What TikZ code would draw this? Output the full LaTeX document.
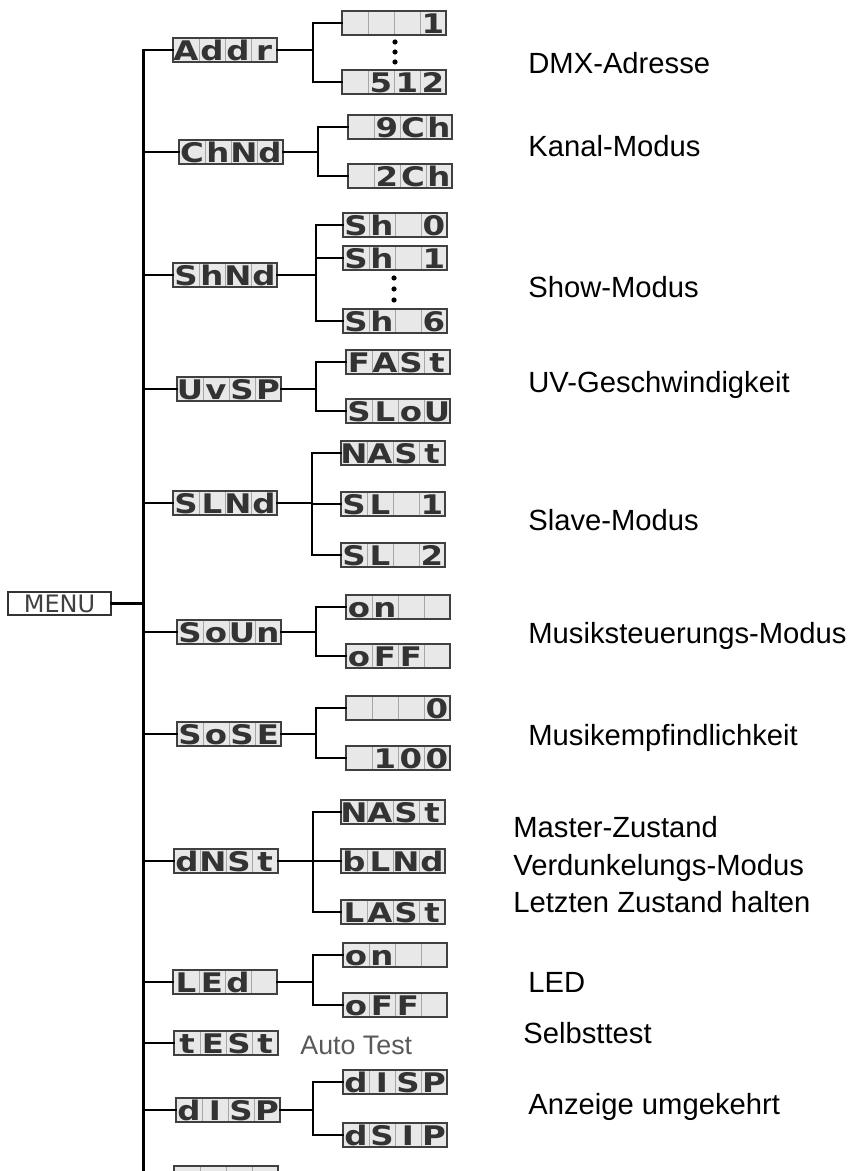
\documentclass[tikz,border=0pt]{standalone}
\usepackage{fontspec}
\usepackage{graphicx}
\setmainfont{Liberation Sans}
\newfontfamily\lcdfont{DejaVu Sans}
\newfontfamily\menufont{DejaVu Sans}
\newcommand{\segcell}[1]{\makebox[13pt]{\scalebox{1.2}[1]{#1}}}
\newcommand{\segs}[4]{\segcell{#1}\segcell{#2}\segcell{#3}\segcell{#4}}

\begin{document}
\begin{tikzpicture}[x=0.5pt,y=-0.5pt]
        \tikzset{lcd/.style={draw=black!75,fill=black!9,line width=0.7pt,
                minimum width=52pt,minimum height=12pt,inner sep=0pt,
                text height=11pt,text depth=0.5pt,text=black!80,
                font=\lcdfont\bfseries\fontsize{13.5}{14}\selectfont,
                path picture={\foreach \k in {-13pt,0pt,13pt}
                    \draw[black!35,line width=0.4pt] ([xshift=\k]path picture bounding box.south)
                        -- ([xshift=\k]path picture bounding box.north);}},
            menubox/.style={draw=black!80,line width=0.7pt,minimum width=51.5pt,
                minimum height=11.5pt,inner sep=0pt,text=black!75,
                font=\menufont\fontsize{12}{12}\selectfont},
            wire/.style={line width=1.3pt,line cap=rect},
            trunk/.style={line width=1.5pt},
            note/.style={anchor=base west,inner sep=0pt,font=\fontsize{14.6}{17}\selectfont},
            autonote/.style={anchor=base west,inner sep=0pt,text=black!65,
                font=\fontsize{13.4}{15}\selectfont},
            vdot/.style={circle,fill,inner sep=0pt,minimum size=2.6pt}}
        \useasboundingbox (0,0) rectangle (850,1171);
        \clip (0,0) rectangle (850,1171);

        \node[menubox] (menu) at (59.5,603.5) {MENU};

        \node[lcd] (Addr) at (225,50) {\segs{A}{d}{d}{r}};
        \node[lcd] (ChNd) at (231,152) {\segs{C}{h}{N}{d}};
        \node[lcd] (ShNd) at (225,275) {\segs{S}{h}{N}{d}};
        \node[lcd] (UvSP) at (229,389) {\segs{U}{v}{S}{P}};
        \node[lcd] (SLNd) at (225,503) {\segs{S}{L}{N}{d}};
        \node[lcd] (SoUn) at (229,632) {\segs{S}{o}{U}{n}};
        \node[lcd] (SoSE) at (229,734) {\segs{S}{o}{S}{E}};
        \node[lcd] (dNSt) at (226,861) {\segs{d}{N}{S}{t}};
        \node[lcd] (LEd) at (225,982) {\segs{L}{E}{d}{}};
        \node[lcd] (tESt) at (226,1043) {\segs{t}{E}{S}{t}};
        \node[lcd] (dISP) at (228,1110) {\segs{d}{I}{S}{P}};
        \node[lcd] (last) at (226,1178) {};

        \node[lcd] (AddrA) at (394,23) {\segs{}{}{}{1}};
        \node[lcd] (AddrB) at (394,82) {\segs{}{5}{1}{2}};
        \node[lcd] (ChNdA) at (400,127) {\segs{}{9}{C}{h}};
        \node[lcd] (ChNdB) at (400,176) {\segs{}{2}{C}{h}};
        \node[lcd] (ShNdA) at (395,225) {\segs{S}{h}{}{0}};
        \node[lcd] (ShNdB) at (395,258) {\segs{S}{h}{}{1}};
        \node[lcd] (ShNdC) at (395,321) {\segs{S}{h}{}{6}};
        \node[lcd] (UvSPA) at (398,362) {\segs{F}{A}{S}{t}};
        \node[lcd] (UvSPB) at (398,411) {\segs{S}{L}{o}{U}};
        \node[lcd] (SLNdA) at (393,453) {\segs{N}{A}{S}{t}};
        \node[lcd] (SLNdB) at (393,504) {\segs{S}{L}{}{1}};
        \node[lcd] (SLNdC) at (393,555) {\segs{S}{L}{}{2}};
        \node[lcd] (SoUnA) at (398,607) {\segs{o}{n}{}{}};
        \node[lcd] (SoUnB) at (398,656) {\segs{o}{F}{F}{}};
        \node[lcd] (SoSEA) at (398,708) {\segs{}{}{}{0}};
        \node[lcd] (SoSEB) at (398,758) {\segs{}{1}{0}{0}};
        \node[lcd] (dNStA) at (393,812) {\segs{N}{A}{S}{t}};
        \node[lcd] (dNStB) at (393,861) {\segs{b}{L}{N}{d}};
        \node[lcd] (dNStC) at (393,912) {\segs{L}{A}{S}{t}};
        \node[lcd] (LEdA) at (395,955) {\segs{o}{n}{}{}};
        \node[lcd] (LEdB) at (395,1005) {\segs{o}{F}{F}{}};
        \node[lcd] (dISPA) at (395,1082) {\segs{d}{I}{S}{P}};
        \node[lcd] (dISPB) at (395,1135) {\segs{d}{S}{I}{P}};

        \foreach \y in {42,52,62} \node[vdot] (adot\y) at (395,\y) {};
        \foreach \y in {278,289,300} \node[vdot] (sdot\y) at (394,\y) {};

        \coordinate (top) at (143,50);
        \coordinate (bot) at (143,1200);
        \draw[trunk] (top) -- (bot);
        \draw[wire] (menu.east) -- (menu.east -| top);
        \foreach \b in {Addr,ChNd,ShNd,UvSP,SLNd,SoUn,SoSE,dNSt,LEd,tESt,dISP,last}
            \draw[wire] (\b.west -| top) -- (\b.west);

        \foreach \p/\jx/\kids in {Addr/313/{AddrA,AddrB},ChNd/318/{ChNdA,ChNdB},
                ShNd/316/{ShNdA,ShNdB,ShNdC},UvSP/316/{UvSPA,UvSPB},
                SLNd/312/{SLNdA,SLNdB,SLNdC},SoUn/316/{SoUnA,SoUnB},
                SoSE/316/{SoSEA,SoSEB},dNSt/313/{dNStA,dNStB,dNStC},
                LEd/313/{LEdA,LEdB},dISP/313/{dISPA,dISPB}}{
            \coordinate (\p-j) at (\jx,0);
            \draw[wire] (\p.east) -- (\p.east -| \p-j);
            \foreach \c in \kids \draw[wire] (\p.east -| \p-j) |- (\c.west);
        }

        \node[autonote] (auto) at (300,1054) {Auto Test};

        \node[note] (addrnote) at (528,74) {DMX-Adresse};
        \node[note] (chnote) at (528,157) {Kanal-Modus};
        \node[note] (shownote) at (528,298) {Show-Modus};
        \node[note] (uvnote) at (528,393) {UV-Geschwindigkeit};
        \node[note] (slavenote) at (528,530) {Slave-Modus};
        \node[note] (soundnote) at (528,643) {Musiksteuerungs-Modus};
        \node[note] (sensnote) at (528,745) {Musikempfindlichkeit};
        \node[note] (masternote) at (513,837) {Master-Zustand};
        \node[note] (blacknote) at (513,875) {Verdunkelungs-Modus};
        \node[note] (lastnote) at (513,912) {Letzten Zustand halten};
        \node[note] (lednote) at (528,992) {LED};
        \node[note] (testnote) at (523,1043) {Selbsttest};
        \node[note] (dispnote) at (528,1114) {Anzeige umgekehrt};
\end{tikzpicture}
\end{document}
